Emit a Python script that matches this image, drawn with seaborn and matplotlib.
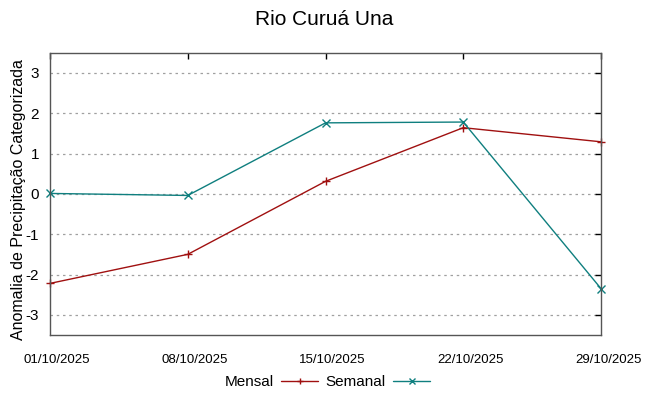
import pandas as pd
import matplotlib.pyplot as plt
import matplotlib.transforms as mtransforms
from matplotlib.lines import Line2D
import seaborn as sns

# data
dates = ["01/10/2025", "08/10/2025", "15/10/2025", "22/10/2025", "29/10/2025"]
mensal = [-2.22, -1.50, 0.31, 1.64, 1.29]
semanal = [0.01, -0.04, 1.76, 1.78, -2.35]
yticks = [-3, -2, -1, 0, 1, 2, 3]

series_colors = {"Mensal": "#a01010", "Semanal": "#0f7f7f"}
series_markers = {"Mensal": "+", "Semanal": "x"}

x = pd.to_datetime(dates, format="%d/%m/%Y")
df = pd.concat([
    pd.DataFrame({"data": x, "valor": mensal, "serie": "Mensal"}),
    pd.DataFrame({"data": x, "valor": semanal, "serie": "Semanal"}),
])

sns.set_style("white")
plt.rcParams["font.family"] = ["Liberation Sans", "DejaVu Sans"]
plt.rcParams["text.color"] = "black"
plt.rcParams["xtick.color"] = "black"
plt.rcParams["ytick.color"] = "black"
plt.rcParams["axes.labelcolor"] = "black"

fig = plt.figure(figsize=(6.48, 3.96), dpi=100)
ax = fig.add_axes([0.0772, 0.154, 0.8503, 0.713])

sns.lineplot(
    data=df, x="data", y="valor", hue="serie", style="serie",
    palette=series_colors, markers=series_markers, dashes=False,
    linewidth=1.0, markersize=6, legend=False, ax=ax,
)
# seaborn paints marker edges white; '+'/'x' need the line colour
for ln in ax.lines:
    ln.set_markeredgecolor(ln.get_color())
    ln.set_markeredgewidth(1.0)
    ln.set_clip_on(False)

ax.set_xlim(x[0], x[-1])
ax.set_ylim(-3.5, 3.5)
ax.set_xticks(x)
ax.set_xticklabels(dates, fontsize=9.5)
ax.set_yticks(yticks)
ax.set_yticklabels([str(v) for v in yticks], fontsize=11)

ax.yaxis.grid(True, color="#a0a0a0", linestyle=(0, (2, 3)), linewidth=0.9)
ax.xaxis.grid(False)
ax.tick_params(axis="both", direction="in", length=4, width=1,
               top=True, right=True)
ax.tick_params(axis="x", pad=14)
ax.tick_params(axis="y", pad=8)
for sp in ax.spines.values():
    sp.set_color("#555555")
    sp.set_linewidth(1.0)

# date labels sit a little right of their ticks in the reference
offset = mtransforms.ScaledTranslation(7 / 100, 0, fig.dpi_scale_trans)
for lbl in ax.get_xticklabels():
    lbl.set_transform(lbl.get_transform() + offset)

ax.set_xlabel("")
ax.set_ylabel("Anomalia de Precipitação Categorizada", fontsize=11.5)
ax.yaxis.set_label_coords(-0.044, 0.48)
fig.suptitle("Rio Curuá Una", fontsize=15, y=0.975)

handles = [
    Line2D([], [], color=series_colors[s], marker=series_markers[s],
           markersize=5, markeredgewidth=1.0, linewidth=1.0)
    for s in ["Mensal", "Semanal"]
]
fig.legend(handles, ["Mensal", "Semanal"], loc="center", bbox_to_anchor=(0.505, 0.035),
           ncol=2, frameon=False, markerfirst=False, handlelength=2.4,
           columnspacing=0.5, handletextpad=0.5, prop={"size": 11})

fig.savefig("out.png", dpi=100)
plt.close(fig)
